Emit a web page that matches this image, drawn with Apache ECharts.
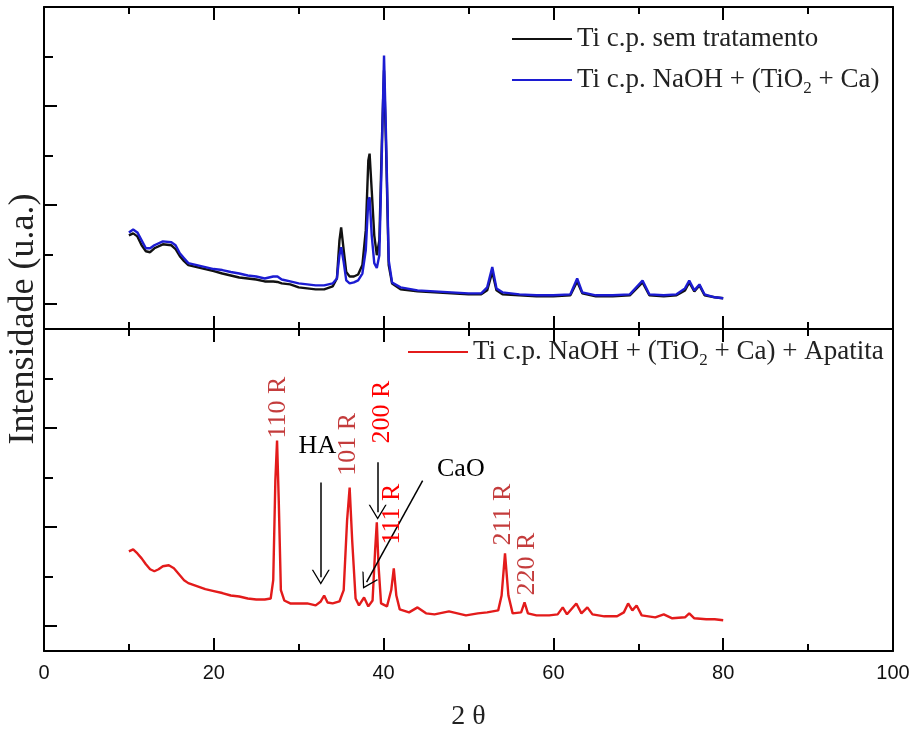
<!DOCTYPE html>
<html>
<head>
<meta charset="utf-8">
<script src="https://cdn.jsdelivr.net/npm/echarts@6/dist/echarts.min.js"></script>
<style>
  html, body { margin: 0; background: #fff; }
  #chart { width: 917px; height: 735px; }
</style>
</head>
<body>
<div id="chart"></div>
<script>
// 2θ do painel superior (mesmo eixo para as duas curvas)
const thetaTop = [
  10, 10.5, 11, 11.5, 12, 12.5, 13, 14, 15, 15.5,
  16, 16.5, 17, 18, 19, 20, 21, 22, 23, 24,
  25, 26, 27, 27.5, 28, 29, 30, 31, 32, 33,
  34, 34.5, 34.8, 35.0, 35.3, 35.6, 36, 36.5, 37, 37.5,
  37.9, 38.2, 38.35, 38.6, 38.9, 39.2, 39.5, 39.8, 40.05, 40.3,
  40.6, 41, 42, 44, 46, 48, 50, 51.5, 52.2, 52.8,
  53.3, 54, 56, 58, 60, 62, 62.8, 63.4, 65, 67,
  69, 70.5, 71.3, 73, 74.5, 75.5, 76.0, 76.6, 77.2, 77.8,
  79, 80
];
// Ti c.p. sem tratamento
const semTratamento = [
  139, 143, 137, 119, 107, 105, 113, 121, 119, 111,
  97, 87, 79, 75, 71, 67, 62, 58, 54, 52,
  50, 46, 46, 45, 42, 40, 34, 32, 30, 30,
  36, 52, 129, 155, 109, 65, 56, 56, 60, 79,
  149, 290, 304, 230, 139, 99, 129, 331, 472, 310,
  79, 42, 30, 26, 24, 22, 20, 20, 28, 65,
  28, 20, 18, 16, 16, 18, 46, 22, 16, 16,
  18, 44, 18, 16, 18, 28, 44, 26, 38, 18,
  14, 12
];
// Ti c.p. NaOH + (TiO2 + Ca)
const naohTiCa = [
  145, 151, 145, 129, 113, 113, 119, 127, 125, 119,
  103, 93, 83, 79, 75, 71, 69, 65, 62, 58,
  56, 52, 56, 56, 50, 46, 42, 40, 38, 38,
  42, 52, 99, 115, 85, 48, 42, 44, 48, 62,
  109, 210, 216, 139, 83, 73, 99, 310, 502, 331,
  89, 44, 34, 28, 26, 24, 22, 22, 34, 75,
  32, 24, 20, 18, 18, 20, 52, 24, 18, 18,
  20, 48, 20, 18, 20, 32, 48, 28, 40, 20,
  14, 12
];

// painel inferior
const thetaBot = [
  10, 10.5, 11, 11.5, 12, 12.5, 13, 13.5, 14, 14.7,
  15.3, 16, 16.5, 17, 18, 19, 20, 21, 22, 23,
  24, 25, 26, 26.7, 27.0, 27.25, 27.45, 27.65, 27.9, 28.3,
  29, 30, 31, 32, 32.6, 33.0, 33.4, 34, 34.8, 35.3,
  35.7, 36.0, 36.3, 36.7, 37.1, 37.7, 38.2, 38.7, 39.0, 39.2,
  39.4, 39.7, 40.4, 40.9, 41.2, 41.5, 41.9, 43, 44, 45,
  46, 47.7, 49.7, 51.1, 52.2, 53.5, 53.9, 54.3, 54.7, 55.2,
  56.2, 56.6, 57.0, 58, 59.5, 60.5, 61.1, 61.6, 62.7, 63.3,
  64.0, 64.6, 66, 67.5, 68.3, 68.8, 69.3, 69.8, 70.4, 72,
  73, 74, 75.5, 76, 76.6, 78, 79, 80
];
// Ti c.p. NaOH + (TiO2 + Ca) + Apatita
const apatita = [
  151, 155, 147, 137, 125, 115, 111, 115, 121, 123,
  117, 103, 93, 87, 81, 75, 71, 67, 62, 60,
  56, 54, 54, 56, 93, 294, 375, 254, 73, 52,
  46, 46, 46, 42, 50, 62, 48, 46, 50, 73,
  214, 280, 173, 56, 42, 58, 40, 52, 153, 210,
  123, 46, 40, 73, 117, 62, 34, 28, 38, 26,
  24, 30, 22, 26, 28, 32, 62, 147, 62, 26,
  28, 48, 26, 22, 22, 24, 38, 24, 46, 26,
  38, 24, 20, 20, 28, 46, 32, 42, 22, 18,
  24, 16, 18, 26, 16, 14, 14, 12
];

// indexação dos picos (rutilo) – texto e posição em unidades do gráfico
const peakText = ['110 R', '101 R', '200 R', '111 R', '211 R', '220 R'];
const peakX = [27.6, 35.8, 39.8, 41.0, 54.1, 56.9];
const peakY = [379, 304, 369, 165, 163, 62];
const peakRed = [false, false, true, true, false, false];

// fases indicadas por seta
const phaseText = ['HA', 'CaO'];
const phaseX = [32.2, 49.1];
const phaseY = [363, 318];
// setas: início e ponta
const arrowFrom = [[32.6, 290], [39.3, 331], [44.6, 294]];
const arrowTo = [[32.6, 99], [39.3, 230], [38.0, 89]];

const nameBlack = 'Ti c.p. sem tratamento';
const nameBlue = 'Ti c.p. NaOH + (TiO2 + Ca)';
const nameRed = 'Ti c.p. NaOH + (TiO2 + Ca) + Apatita';

const serif = '"Liberation Serif", "Times New Roman", serif';
const chart = echarts.init(document.getElementById('chart'));

function xAxisOf(grid, pos, withLabels) {
  return {
    type: 'value', gridIndex: grid, position: pos, min: 0, max: 100, interval: 20,
    axisLine: { show: true, onZero: false, lineStyle: { color: '#000', width: 2 } },
    axisTick: { show: true, inside: true, length: 13, lineStyle: { color: '#000', width: 2 } },
    minorTick: { show: true, splitNumber: 2, length: 7, lineStyle: { color: '#000', width: 2 } },
    splitLine: { show: false },
    minorSplitLine: { show: false },
    axisLabel: {
      show: withLabels, margin: 12, color: '#111',
      fontFamily: '"Liberation Sans", Arial, sans-serif', fontSize: 20
    }
  };
}
function yAxesOf(grid) {
  const base = {
    type: 'value', gridIndex: grid, min: -50, max: 600,
    splitLine: { show: false }, axisLabel: { show: false }
  };
  return [
    Object.assign({}, base, {
      position: 'left',
      axisLine: { show: true, onZero: false, lineStyle: { color: '#000', width: 2 } },
      axisTick: { show: true, inside: true, length: 13, customValues: [0, 200, 400, 600],
        lineStyle: { color: '#000', width: 2 } }
    }),
    Object.assign({}, base, {
      position: 'left',
      axisLine: { show: false, onZero: false },
      axisTick: { show: true, inside: true, length: 9, customValues: [100, 300, 500],
        lineStyle: { color: '#000', width: 2 } }
    }),
    Object.assign({}, base, {
      position: 'right',
      axisLine: { show: true, onZero: false, lineStyle: { color: '#000', width: 2 } },
      axisTick: { show: false }
    })
  ];
}

const legendText = {
  fontFamily: serif, fontSize: 27, color: '#222', lineHeight: 34,
  rich: { sub: { fontFamily: serif, fontSize: 17, lineHeight: 16, verticalAlign: 'bottom' } }
};
const legendFormatter = (n) => n.replace('TiO2', 'TiO{sub|2}');

const peakMarks = peakText.map((t, i) => ({
  coord: [peakX[i], peakY[i]],
  label: {
    formatter: t, rotate: 90, align: 'left', verticalAlign: 'middle',
    color: peakRed[i] ? '#ff0000' : '#c43c3c'
  }
}));
const phaseMarks = phaseText.map((t, i) => ({
  coord: [phaseX[i], phaseY[i]],
  label: { formatter: t, rotate: 0, align: 'center', verticalAlign: 'middle', color: '#000' }
}));

chart.setOption({
  animation: false,
  grid: [
    { left: 44, right: 24, top: 7, height: 322 },
    { left: 44, right: 24, top: 329, height: 322 }
  ],
  xAxis: [
    xAxisOf(0, 'bottom', false),
    xAxisOf(0, 'top', false),
    Object.assign(xAxisOf(1, 'bottom', true), {
      name: '2 θ', nameLocation: 'middle', nameGap: 52,
      nameTextStyle: { fontFamily: serif, fontSize: 28, color: '#222' }
    }),
    xAxisOf(1, 'top', false)
  ],
  yAxis: yAxesOf(0).concat(yAxesOf(1)),
  legend: [
    {
      data: [nameBlack, nameBlue], orient: 'vertical', left: 512, top: 22,
      icon: 'rect', itemWidth: 60, itemHeight: 2, itemGap: 7, padding: 0, selectedMode: false,
      textStyle: legendText, formatter: legendFormatter
    },
    {
      data: [nameRed], orient: 'vertical', left: 408, top: 335,
      icon: 'rect', itemWidth: 60, itemHeight: 2, padding: 0, selectedMode: false,
      textStyle: legendText, formatter: legendFormatter
    }
  ],
  graphic: [{
    type: 'text', x: 24, y: 319, rotation: Math.PI / 2,
    style: {
      text: 'Intensidade (u.a.)', font: '36px ' + serif, fill: '#222',
      align: 'center', verticalAlign: 'middle'
    }
  }],
  series: [
    {
      type: 'line', name: nameBlack, xAxisIndex: 0, yAxisIndex: 0,
      data: thetaTop.map((t, i) => [t, semTratamento[i]]),
      symbol: 'none', lineStyle: { color: '#111', width: 2.4 }, itemStyle: { color: '#111' }, z: 2
    },
    {
      type: 'line', name: nameBlue, xAxisIndex: 0, yAxisIndex: 0,
      data: thetaTop.map((t, i) => [t, naohTiCa[i]]),
      symbol: 'none', lineStyle: { color: '#1c1cd2', width: 2.4 }, itemStyle: { color: '#1c1cd2' }, z: 3
    },
    {
      type: 'line', name: nameRed, xAxisIndex: 2, yAxisIndex: 3,
      data: thetaBot.map((t, i) => [t, apatita[i]]),
      symbol: 'none', lineStyle: { color: '#e31b1b', width: 2.4 }, itemStyle: { color: '#e31b1b' }, z: 3,
      markPoint: {
        silent: true, symbol: 'circle', symbolSize: 1,
        itemStyle: { color: 'rgba(0,0,0,0)' },
        label: { show: true, position: 'inside', fontFamily: serif, fontSize: 26 },
        data: peakMarks.concat(phaseMarks)
      },
      markLine: {
        silent: true, symbol: ['none', 'path://M0,16 L10,0 L20,16 L18.4,16 L10,2.6 L1.6,16 Z'],
        symbolSize: [18, 15],
        label: { show: false },
        lineStyle: { color: '#000', width: 1.5, type: 'solid' },
        emphasis: { disabled: true },
        data: arrowFrom.map((a, i) => [{ coord: a }, { coord: arrowTo[i] }])
      }
    }
  ]
});
</script>
</body>
</html>
